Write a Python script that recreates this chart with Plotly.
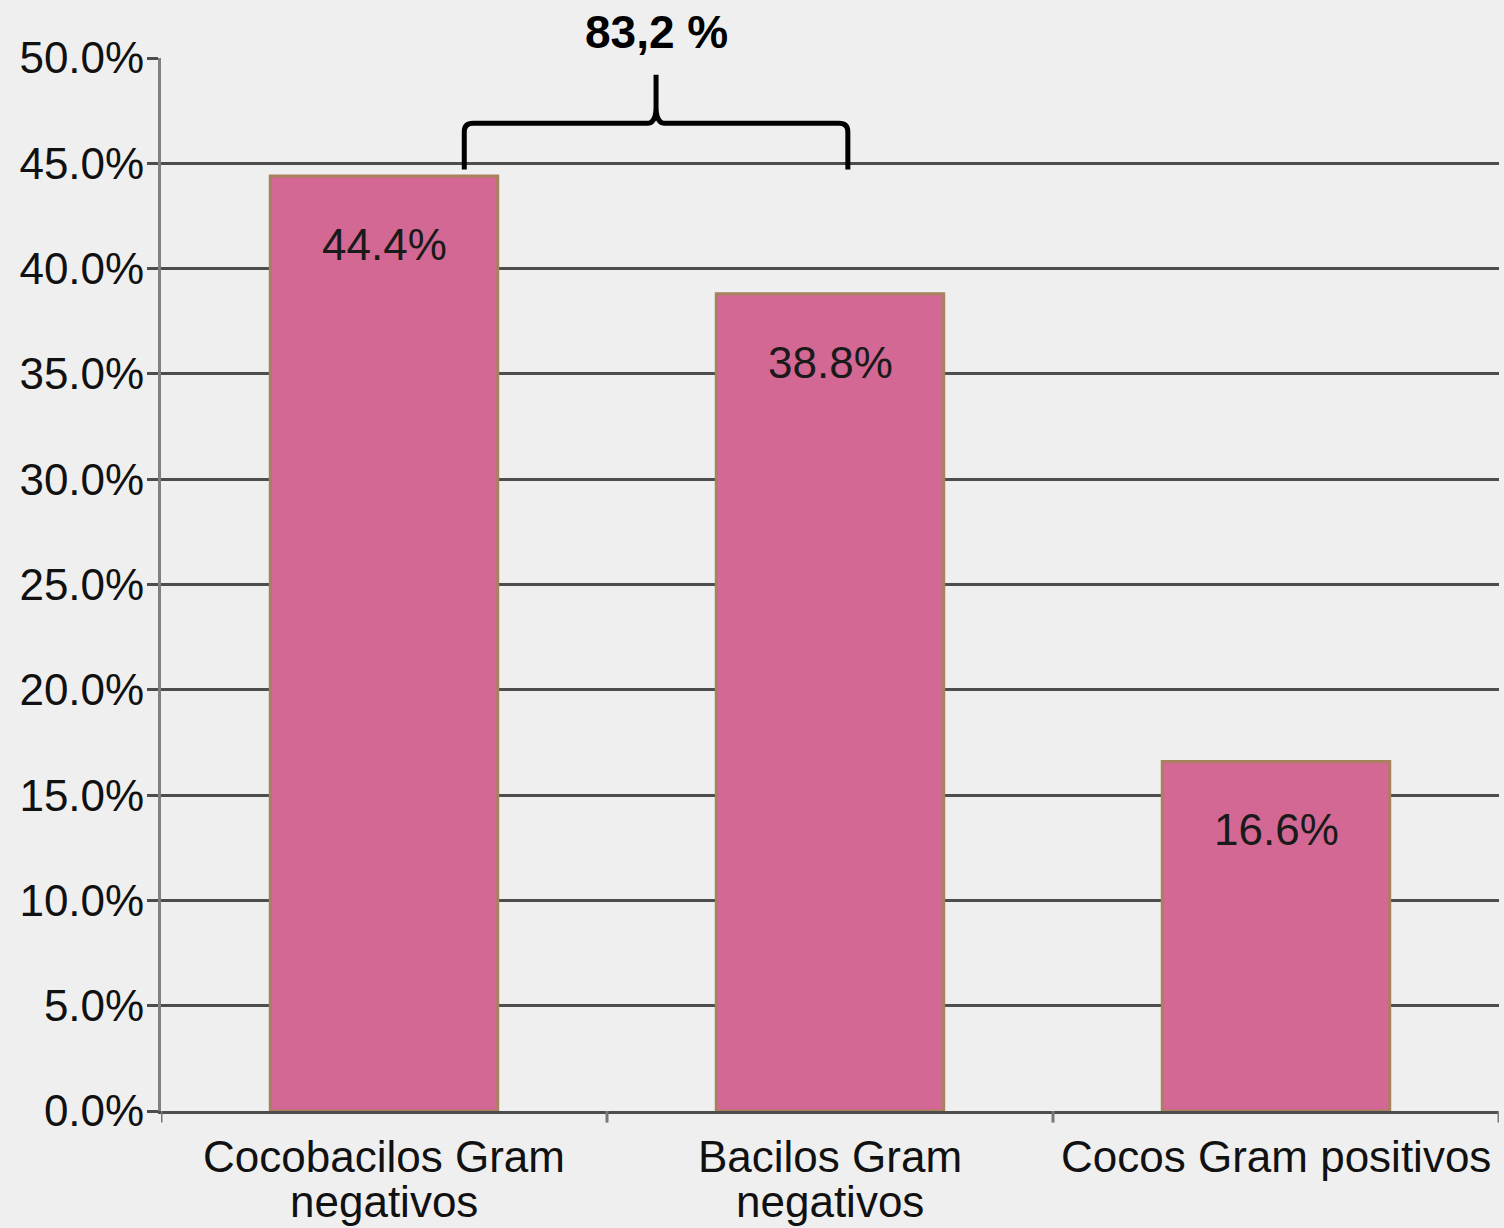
import plotly.graph_objects as go

# Distribution of isolates by Gram morphology
categories = [["Cocobacilos Gram", "negativos"], ["Bacilos Gram", "negativos"], ["Cocos Gram positivos"]]
shares = [0.444, 0.388, 0.166]
tick_vals = [0.0, 0.05, 0.10, 0.15, 0.20, 0.25, 0.30, 0.35, 0.40, 0.45, 0.50]

W, H = 1504, 1228
FONT = "Liberation Sans, Arial, sans-serif"
BG = "#efefef"
GRID = "#4d4d4d"
LINE_STEP = 45  # vertical distance between lines of a category label

fig = go.Figure()
fig.add_trace(go.Bar(
    x=list(range(len(categories))),
    y=shares,
    width=0.51,
    marker=dict(color="#d26893", line=dict(color="#a8825e", width=3)),
    hoverinfo="skip",
))

# value labels near the top of each bar
for i, v in enumerate(shares):
    fig.add_annotation(
        x=i, y=v, xref="x", yref="y",
        text=f"{v * 100:.1f}%", showarrow=False,
        yanchor="top", yshift=-42,
        font=dict(family=FONT, size=44, color="#1a1a1a"),
    )

# category labels under the axis, with tight line spacing
for i, lines in enumerate(categories):
    for k, line in enumerate(lines):
        fig.add_annotation(
            x=i, y=0, xref="x", yref="paper",
            text=line, showarrow=False,
            yanchor="middle", yshift=-45 - k * LINE_STEP,
            font=dict(family=FONT, size=44, color="#111111"),
        )

# curly brace grouping the two Gram-negative groups
x0, x1 = 0.18, 1.04
xm = (x0 + x1) / 2
yb, yh, yt = 0.447, 0.469, 0.492
r = 0.02
ry = 0.004
brace = (
    f"M {x0},{yb} L {x0},{yh - ry} Q {x0},{yh} {x0 + r},{yh} "
    f"L {xm - r},{yh} Q {xm},{yh} {xm},{yh + ry * 2} L {xm},{yt} "
    f"M {xm},{yh + ry * 2} Q {xm},{yh} {xm + r},{yh} "
    f"L {x1 - r},{yh} Q {x1},{yh} {x1},{yh - ry} L {x1},{yb}"
)
fig.add_shape(type="path", path=brace, xref="x", yref="y",
              line=dict(color="#000000", width=5), layer="above")

fig.add_annotation(
    x=xm, y=1.0, xref="x", yref="paper",
    text=f"<b>{(shares[0] + shares[1]) * 100:.1f} %</b>".replace(".", ","),
    showarrow=False, yanchor="middle", yshift=26,
    font=dict(family=FONT, size=46, color="#000000"),
)

fig.update_layout(
    width=W, height=H,
    margin=dict(l=161, r=5, t=58, b=117),
    paper_bgcolor=BG, plot_bgcolor=BG,
    showlegend=False,
    font=dict(family=FONT, size=44, color="#111111"),
)
fig.update_xaxes(
    range=[-0.5, 2.5],
    showticklabels=False,
    showgrid=False,
    showline=True, linecolor=GRID, linewidth=3,
    ticks="",
    zeroline=False, automargin=False,
)
# boundary tick marks between categories
for b in [-0.5, 0.5, 1.5, 2.5]:
    fig.add_shape(type="line", xref="x", yref="paper", x0=b, x1=b, y0=0, y1=-0.011,
                  line=dict(color="#777777", width=3))
fig.update_yaxes(
    range=[0, 0.5],
    tickmode="array", tickvals=tick_vals, tickformat=".1%",
    showgrid=True, gridcolor=GRID, gridwidth=3,
    showline=True, linecolor="#808080", linewidth=3,
    ticks="outside", ticklen=11, tickcolor=GRID, tickwidth=3,
    tickfont=dict(family=FONT, size=44, color="#111111"),
    ticklabelstandoff=-6,
    zeroline=False, automargin=False,
)

fig.write_html("out.html")
